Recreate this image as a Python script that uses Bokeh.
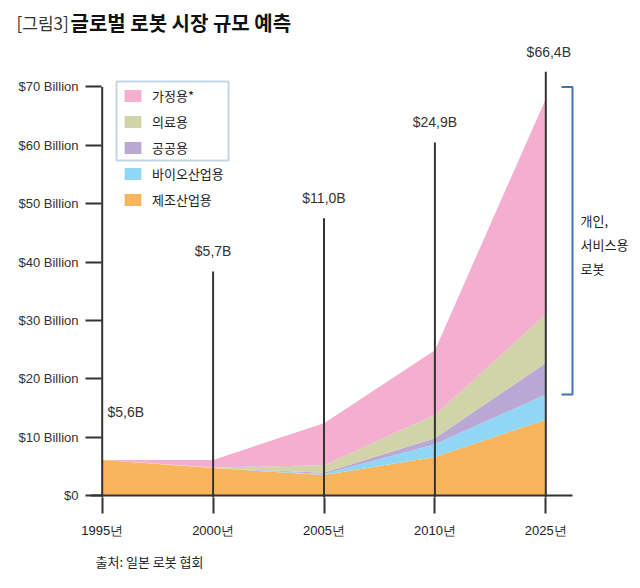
from bokeh.plotting import figure
from bokeh.layouts import column
from bokeh.models import Legend, LegendItem, FixedTicker, BoxAnnotation, Title, ColumnDataSource
from bokeh.core.properties import value
from bokeh.embed import file_html
from bokeh.resources import INLINE

# ---------------- data ----------------
years = ["1995년", "2000년", "2005년", "2010년", "2025년"]
manufacturing = [6.1, 4.7, 3.5, 6.6, 13.0]   # 제조산업용
bio = [0.0, 0.0, 0.2, 2.2, 4.3]              # 바이오산업용
public = [0.0, 0.0, 0.2, 1.0, 5.4]           # 공공용
medical = [0.0, 0.1, 1.3, 4.0, 8.3]          # 의료용
household = [0.0, 1.3, 7.2, 11.1, 37.0]      # 가정용*
series_names = ["제조산업용", "바이오산업용", "공공용", "의료용", "가정용*"]
total_labels = ["$5,6B", "$5,7B", "$11,0B", "$24,9B", "$66,4B"]
marker_tops = [70.0, 38.4, 47.5, 60.5, 72.6]
y_ticks = [0, 10, 20, 30, 40, 50, 60, 70]
y_tick_labels = ["$0", "$10 Billion", "$20 Billion", "$30 Billion", "$40 Billion",
                 "$50 Billion", "$60 Billion", "$70 Billion"]
bracket_text = ["개인,", "서비스용", "로봇"]
title_parts = ["[그림3]", "글로벌 로봇 시장 규모 예측"]
source_text = "출처: 일본 로봇 협회"

# ---------------- layout helpers (page pixel -> data) ----------------
PX_X = 110.9
PX_Y = 5.836
X0 = 101.7
Y0 = 495.0
def dx(px):
    return (px - X0) / PX_X
def dy(py):
    return (Y0 - py) / PX_Y

colors = ["#f9b55b", "#8fd7f5", "#b9a8d4", "#d0d4a8", "#f4aed0"]
LINE = "#333333"
BLUE = "#3d74b0"
FONT = "Noto Sans CJK KR"

W = 640
TOP_H = 40
MAIN_H = 548

# ---------------- title strip ----------------
t = figure(width=W, height=TOP_H, output_backend="svg", toolbar_location=None,
           x_range=(0, W), y_range=(TOP_H, 0), x_axis_location=None, y_axis_location=None,
           min_border=0)
t.frame_align = False
t.outline_line_color = None
t.grid.visible = False
t.text(x=[16], y=[22], text=title_parts[:1], text_font=value(FONT), text_font_size=value("17px"),
       text_baseline="middle", text_align="left", text_color="#333333")
t.text(x=[70], y=[22], text=title_parts[1:], text_font=value(FONT), text_font_size=value("20px"),
       text_font_style="bold", text_baseline="middle", text_align="left", text_color="#111111")

# ---------------- main chart ----------------
p = figure(width=W, height=MAIN_H, output_backend="svg", toolbar_location=None,
           x_range=(dx(90), dx(640)), y_range=(dy(497), dy(TOP_H)),
           min_border_left=90, min_border_right=0, min_border_top=0,
           min_border_bottom=MAIN_H - (497 - TOP_H))
p.frame_align = False
p.outline_line_color = None
p.grid.visible = False
p.background_fill_color = "white"

xs = list(range(len(years)))
src = ColumnDataSource(dict(x=xs, mfg=manufacturing, bio=bio, pub=public, med=medical, home=household))
rs = p.varea_stack(stackers=["mfg", "bio", "pub", "med", "home"], x="x", color=colors, source=src)

# baseline and year lines
p.segment(x0=[dx(90)], y0=[0], x1=[dx(572)], y1=[0], line_color=LINE, line_width=2)
p.segment(x0=xs, y0=[dy(497)] * len(xs), x1=xs, y1=marker_tops, line_color=LINE, line_width=2)

# total labels
lab_x = [dx(107)] + [i + (3 / PX_X if i == 4 else 0) for i in xs[1:]]
lab_y = [dy(411)] + [v + 20 / PX_Y for v in marker_tops[1:]]
p.text(x=lab_x[:1], y=lab_y[:1], text=total_labels[:1], text_font=value("Liberation Sans"),
       text_font_size=value("14px"), text_align="left", text_baseline="middle", text_color="#333333")
p.text(x=lab_x[1:], y=lab_y[1:], text=total_labels[1:], text_font=value("Liberation Sans"),
       text_font_size=value("14px"), text_align="center", text_baseline="middle", text_color="#333333")

# bracket
bottom = manufacturing[-1] + bio[-1]
top = y_ticks[-1]
p.line(x=[dx(561), dx(572), dx(572), dx(561)], y=[top, top, bottom, bottom], line_color=BLUE, line_width=2)
p.text(x=[dx(580)] * 3, y=[dy(220), dy(244), dy(268)], text=bracket_text, text_font=value(FONT),
       text_font_size=value("13px"), text_align="left", text_baseline="middle", text_color="#222222")

# axes
p.xaxis.ticker = FixedTicker(ticks=xs)
p.xaxis.major_label_overrides = {i: y for i, y in zip(xs, years)}
p.xaxis.axis_line_color = None
p.xaxis.major_tick_in = 0
p.xaxis.major_tick_out = 16
p.xaxis.major_tick_line_width = 2
p.xaxis.major_tick_line_color = LINE
p.xaxis.minor_tick_line_color = None
p.xaxis.major_label_standoff = 9
p.xaxis.major_label_text_font = "Liberation Sans"
p.xaxis.major_label_text_font_size = "13px"
p.xaxis.major_label_text_color = "#222222"

p.yaxis.ticker = FixedTicker(ticks=y_ticks)
p.yaxis.major_label_overrides = {tk: l for tk, l in zip(y_ticks, y_tick_labels)}
p.yaxis.axis_line_color = None
p.yaxis.major_tick_in = 11
p.yaxis.major_tick_out = 5
p.yaxis.major_tick_line_width = 2
p.yaxis.major_tick_line_color = LINE
p.yaxis.minor_tick_line_color = None
p.yaxis.major_label_standoff = 7
p.yaxis.major_label_text_font = "Liberation Sans"
p.yaxis.major_label_text_font_size = "13px"
p.yaxis.major_label_text_color = "#333333"

# legend
order = [4, 3, 2, 1, 0]
legend = Legend(items=[LegendItem(label=series_names[i], renderers=[rs[i]]) for i in order],
                location=(32, 288), orientation="vertical",
                glyph_width=21, glyph_height=15, label_height=15, spacing=7,
                padding=0, margin=0, label_standoff=9,
                border_line_color=None, background_fill_alpha=0,
                label_text_font=FONT, label_text_font_size="13px", label_text_color="#222222")
p.add_layout(legend)
p.add_layout(BoxAnnotation(left=dx(116), right=dx(228), top=dy(81), bottom=dy(160),
                           fill_color=None, line_color=BLUE, line_width=2))

# source
p.add_layout(Title(text=source_text, align="left", offset=5, standoff=18, text_font=FONT,
                   text_font_size="13px", text_font_style="normal", text_color="#222222"), "below")

layout = column(t, p, spacing=0)
open("out.html", "w").write(file_html(layout, INLINE))
